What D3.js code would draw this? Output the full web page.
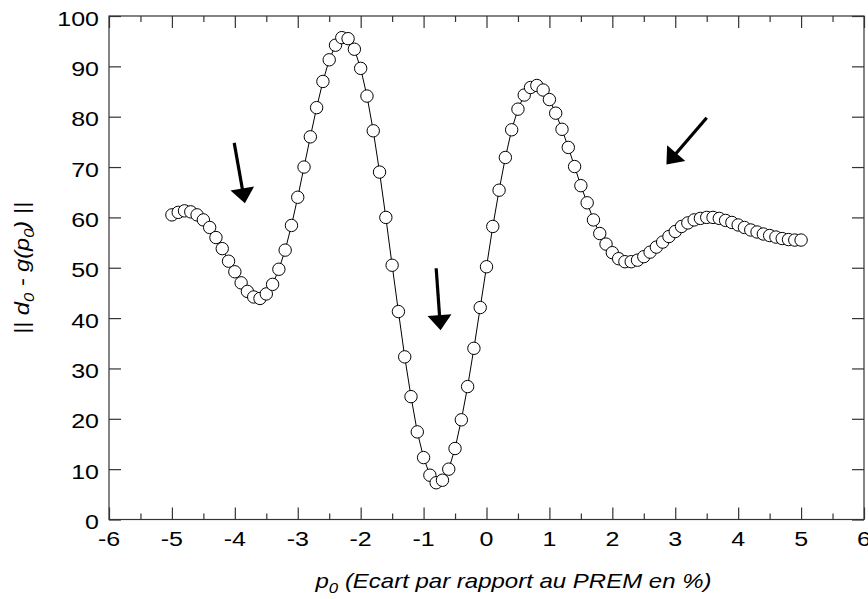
<!DOCTYPE html>
<html><head><meta charset="utf-8">
<script src="https://cdn.jsdelivr.net/npm/d3@7"></script>
<style>
html,body{margin:0;padding:0;background:#fff;}
svg{display:block;font-family:"Liberation Sans",Arial,sans-serif;}
</style></head>
<body><svg id="chart" width="868" height="599"></svg>
<script>
const xValues = [-5.0,-4.9,-4.8,-4.7,-4.6,-4.5,-4.4,-4.3,-4.2,-4.1,-4.0,-3.9,-3.8,-3.7,-3.6,-3.5,-3.4,-3.3,-3.2,-3.1,
  -3.0,-2.9,-2.8,-2.7,-2.6,-2.5,-2.4,-2.3,-2.2,-2.1,-2.0,-1.9,-1.8,-1.7,-1.6,-1.5,-1.4,-1.3,-1.2,-1.1,
  -1.0,-0.9,-0.8,-0.7,-0.6,-0.5,-0.4,-0.3,-0.2,-0.1,0.0,0.1,0.2,0.3,0.4,0.5,0.6,0.7,0.8,0.9,
  1.0,1.1,1.2,1.3,1.4,1.5,1.6,1.7,1.8,1.9,2.0,2.1,2.2,2.3,2.4,2.5,2.6,2.7,2.8,2.9,
  3.0,3.1,3.2,3.3,3.4,3.5,3.6,3.7,3.8,3.9,4.0,4.1,4.2,4.3,4.4,4.5,4.6,4.7,4.8,4.9,5.0];
const misfit = [60.5,61.0,61.3,61.1,60.5,59.5,58.0,56.0,53.8,51.3,49.2,47.0,45.3,44.2,43.9,44.8,46.7,49.7,53.5,58.4,
  64.0,70.0,76.0,81.8,87.0,91.3,94.2,95.7,95.5,93.4,89.6,84.1,77.2,69.0,60.0,50.5,41.3,32.3,24.4,17.4,
  12.3,8.8,7.3,7.8,10.0,14.1,19.8,26.4,34.0,42.1,50.2,58.2,65.4,71.9,77.4,81.5,84.3,85.8,86.2,85.3,
  83.4,80.7,77.5,73.9,70.1,66.3,62.9,59.5,56.8,54.7,53.0,51.8,51.2,51.2,51.5,52.2,53.1,54.1,55.1,56.2,
  57.2,58.2,58.9,59.5,59.8,60.0,60.0,59.8,59.4,59.0,58.5,58.0,57.5,57.1,56.7,56.4,56.1,55.8,55.6,55.5,55.5];
const xTicks = [-6,-5,-4,-3,-2,-1,0,1,2,3,4,5,6];
const xMinorTicks = [-5.5,-4.5,-3.5,-2.5,-1.5,-0.5,0.5,1.5,2.5,3.5,4.5,5.5];
const yTicks = [0,10,20,30,40,50,60,70,80,90,100];
const xTitle = "(Ecart par rapport au PREM en %)";
// arrow annotations: start and tip in data units
const arrowStartX = [-4.01,-0.80,3.50];
const arrowStartY = [74.8,49.9,79.8];
const arrowTipX = [-3.84,-0.73,2.86];
const arrowTipY = [62.8,37.6,70.5];

const svg = d3.select("#chart");
const L = 109, R = 864, T = 16, B = 519.5;
const x = d3.scaleLinear().domain([-6,6]).range([L,R]);
const y = d3.scaleLinear().domain([0,100]).range([B,T]);
const axisColor = "#333";
const SX = 1.25; // horizontal stretch of the reference's lettering
const fmt = d => String(d);

// frame
svg.append("rect").attr("x",L).attr("y",T).attr("width",R-L).attr("height",B-T)
  .attr("fill","none").attr("stroke",axisColor).attr("stroke-width",1.2);

function styleAxis(g){ g.select(".domain").remove(); g.selectAll("line").attr("stroke",axisColor).attr("stroke-width",1.2); g.selectAll("text").remove(); }
styleAxis(svg.append("g").attr("transform",`translate(0,${B})`)
  .call(d3.axisBottom(x).tickValues(xTicks).tickSize(-12)));
styleAxis(svg.append("g").attr("transform",`translate(0,${B})`)
  .call(d3.axisBottom(x).tickValues(xMinorTicks).tickSize(-6)));
styleAxis(svg.append("g").attr("transform",`translate(0,${T})`)
  .call(d3.axisTop(x).tickValues(xTicks).tickSize(-12)));
styleAxis(svg.append("g").attr("transform",`translate(0,${T})`)
  .call(d3.axisTop(x).tickValues(xMinorTicks).tickSize(-6)));
styleAxis(svg.append("g").attr("transform",`translate(${L},0)`)
  .call(d3.axisLeft(y).tickValues(yTicks).tickSize(-12)));
styleAxis(svg.append("g").attr("transform",`translate(${R},0)`)
  .call(d3.axisRight(y).tickValues(yTicks).tickSize(-12)));

// tick labels (stretched horizontally like the reference)
svg.append("g").selectAll("text").data(xTicks).join("text")
  .attr("transform",d=>`translate(${x(d)},${B+26}) scale(${SX},1)`)
  .attr("text-anchor","middle").attr("font-size",20).attr("fill","#000").text(fmt);
svg.append("g").selectAll("text").data(yTicks).join("text")
  .attr("transform",d=>`translate(${L-10},${y(d)+9.5}) scale(${SX},1)`)
  .attr("text-anchor","end").attr("font-size",20).attr("fill","#000").text(fmt);

// data
const pts = xValues.map((v,i)=>({x:v,y:misfit[i]}));
svg.append("path").datum(pts)
  .attr("d", d3.line().x(d=>x(d.x)).y(d=>y(d.y)))
  .attr("fill","none").attr("stroke","#000").attr("stroke-width",1);
svg.append("g").selectAll("circle").data(pts).join("circle")
  .attr("cx",d=>x(d.x)).attr("cy",d=>y(d.y)).attr("r",6.2)
  .attr("fill","#fff").attr("stroke","#000").attr("stroke-width",1);

// arrows
const arrows = arrowStartX.map((v,i)=>({x0:v,y0:arrowStartY[i],x1:arrowTipX[i],y1:arrowTipY[i]}));
const ag = svg.append("g");
arrows.forEach(a=>{
  const sx=x(a.x0), sy=y(a.y0), tx=x(a.x1), ty=y(a.y1);
  const dx=tx-sx, dy=ty-sy, len=Math.hypot(dx,dy), ux=dx/len, uy=dy/len;
  const headLen=15, headW=12;
  const bx=tx-ux*headLen, by=ty-uy*headLen;
  ag.append("line").attr("x1",sx).attr("y1",sy).attr("x2",bx+ux*2).attr("y2",by+uy*2)
    .attr("stroke","#000").attr("stroke-width",3.2);
  ag.append("path").attr("d",`M${tx},${ty}L${bx-uy*headW},${by+ux*headW}L${bx+uy*headW},${by-ux*headW}Z`)
    .attr("fill","#000");
});

// axis titles
const xt = svg.append("text").attr("transform",`translate(${(315+712)/2},588) scale(1.2,1)`).attr("text-anchor","middle")
  .attr("font-size",20).attr("font-style","italic").attr("fill","#000");
xt.append("tspan").text("p");
xt.append("tspan").attr("font-size",14).attr("dy",5).text("0");
xt.append("tspan").attr("dy",-5).text(" " + xTitle);

const yt = svg.append("text").attr("transform","translate(29,268) rotate(-90) scale(1.18,1)").attr("text-anchor","middle")
  .attr("font-size",20).attr("font-style","italic").attr("fill","#000");
yt.append("tspan").text("|| d");
yt.append("tspan").attr("font-size",14).attr("dy",5).text("0");
yt.append("tspan").attr("dy",-5).text(" - g(p");
yt.append("tspan").attr("font-size",14).attr("dy",5).text("0");
yt.append("tspan").attr("dy",-5).text(") ||");
</script></body></html>
